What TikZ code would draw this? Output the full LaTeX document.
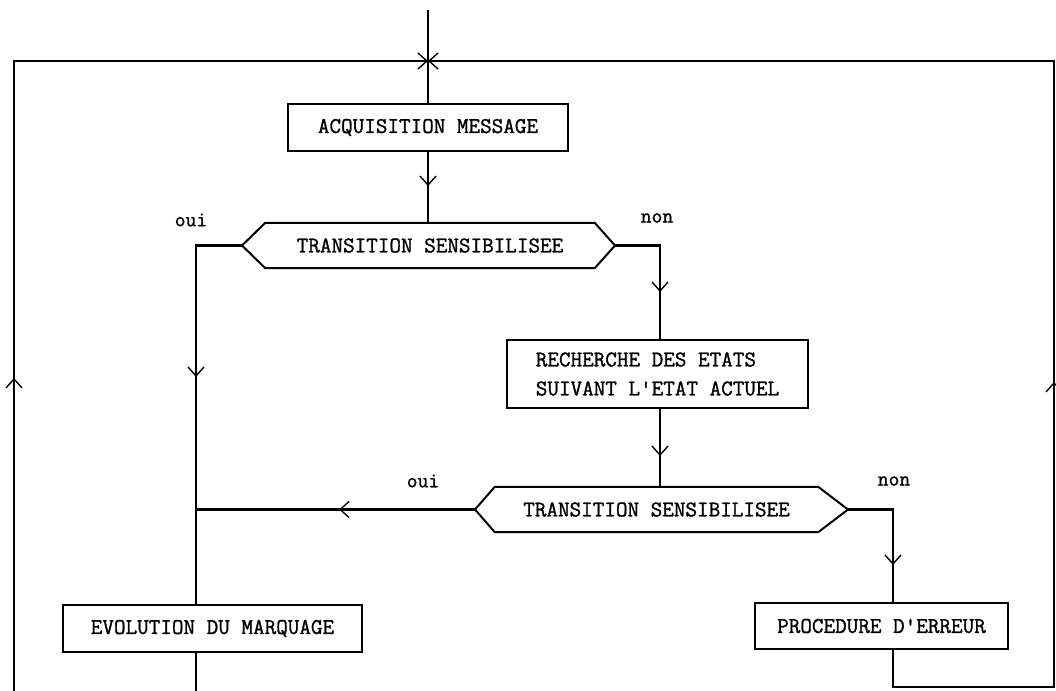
\documentclass[tikz,border=0pt]{standalone}
\usepackage{fontspec}
\newfontfamily\dm{Latin Modern Mono}[FakeBold=1.2]
\usetikzlibrary{arrows.meta,decorations.markings}
\tikzset{
  tipV/.tip={Straight Barb[length=9pt,width=16pt,line width=1.4pt]},
  box/.style={draw,line width=2.2pt,inner sep=0pt,font=\dm\fontsize{22.5}{29}\selectfont},
  hexin/.style={inner sep=0pt,font=\dm\fontsize{22.5}{29}\selectfont},
  hexline/.style={line width=2pt,line join=miter},
  conn/.style={line width=2.2pt},
  lab/.style={font=\dm\fontsize{21}{24}\selectfont},
  arr/.style={postaction={decorate,decoration={markings,
      mark=at position #1 with {\arrow{tipV}}}}}
}
\begin{document}
\begin{tikzpicture}[x=1pt,y=-1pt]
\useasboundingbox (0,0) rectangle (1056,690);
\clip (0,0) rectangle (1056,690);

% nodes
\node[box,minimum width=280pt,minimum height=47pt] (acq) at (428,127.5) {ACQUISITION MESSAGE};
\node[hexin,minimum width=329pt,minimum height=45pt] (hex1) at (430,245.5) {TRANSITION SENSIBILISEE};
\coordinate (hex1l) at (242,245.5);
\coordinate (hex1r) at (615,245.5);
\draw[hexline] (hex1.north west) -- (hex1.north east) -- (hex1r) -- (hex1.south east) -- (hex1.south west) -- (hex1l) -- cycle;

\node[box,minimum width=301pt,minimum height=68pt,align=left] (rech) at (657.5,374) {RECHERCHE DES ETATS\\SUIVANT L'ETAT ACTUEL};

\node[hexin,minimum width=323pt,minimum height=45pt] (hex2) at (656.5,509.5) {TRANSITION SENSIBILISEE};
\coordinate (hex2l) at (475,509.5);
\coordinate (hex2r) at (848,509.5);
\draw[hexline] (hex2.north west) -- (hex2.north east) -- (hex2r) -- (hex2.south east) -- (hex2.south west) -- (hex2l) -- cycle;

\node[box,minimum width=299pt,minimum height=47pt] (evol) at (212.5,628.5) {EVOLUTION DU MARQUAGE};
\node[box,minimum width=253pt,minimum height=46pt] (proc) at (881.5,626) {PROCEDURE D'ERREUR};

% labels
\node[lab] (oui1) at (191,220) {oui};
\node[lab] (non1) at (657,218) {non};
\node[lab] (oui2) at (423,481) {oui};
\node[lab] (non2) at (894,481) {non};

% coordinates
\coordinate (top) at (428,10);
\coordinate (J) at (428,61);
\coordinate (j2) at (196,509.5);

% connectors
\draw[conn] (top) -- (acq.north);
\draw[conn,arr=34pt] (acq.south) -- (acq.south |- hex1.north);
\draw[conn,arr=177.5pt] (hex1l) -| ([xshift=-16.5pt]evol.north);
\draw[conn,arr=91.5pt] (hex1r) -| ([xshift=2.5pt]rech.north);
\draw[conn,arr=47pt] ([xshift=2.5pt]rech.south) -- ([xshift=2.5pt]rech.south |- hex2.north);
\draw[conn,arr=136pt] (hex2l) -- (j2);
\draw[conn,arr=100.5pt] (hex2r) -| ([xshift=11.5pt]proc.north);
\draw[conn,arr=591pt,-tipV] ([xshift=-16.5pt]evol.south) -- (196,720) -- (14,720) -- (14,61) -- (J);
\draw[conn,arr=503pt,-tipV] ([xshift=11.5pt]proc.south) -- (893,687) -- (1054,687) -- (1054,61) -- (J);
\end{tikzpicture}
\end{document}
